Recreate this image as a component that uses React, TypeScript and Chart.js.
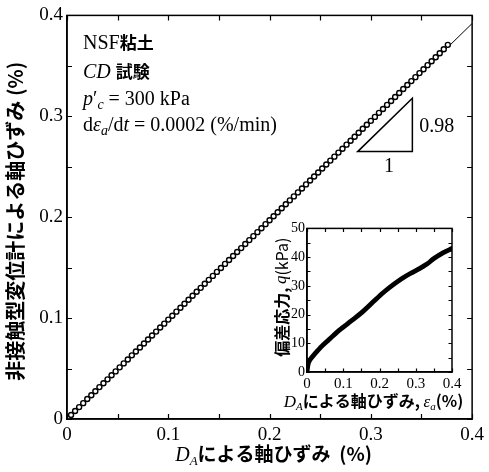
import { useEffect, useRef } from "react";
import { Chart, registerables } from "chart.js";
Chart.register(...registerables);

// ---- main chart data: axial strain by D_A (%) vs axial strain by non-contact gauge (%)
const mainX = [
  0, 0.001, 0.002, 0.004, 0.008, 0.012, 0.016, 0.020, 0.024, 0.028, 0.032, 0.036, 0.040, 0.044, 0.048,
  0.052, 0.056, 0.060, 0.064, 0.068, 0.072, 0.076, 0.080, 0.084, 0.088, 0.092, 0.096, 0.100,
  0.104, 0.108, 0.112, 0.116, 0.120, 0.124, 0.128, 0.132, 0.136, 0.140, 0.144, 0.148, 0.152,
  0.156, 0.160, 0.164, 0.168, 0.172, 0.176, 0.180, 0.184, 0.188, 0.192, 0.196, 0.200, 0.204,
  0.208, 0.212, 0.216, 0.220, 0.224, 0.228, 0.232, 0.236, 0.240, 0.244, 0.248, 0.252, 0.256,
  0.260, 0.264, 0.268, 0.272, 0.276, 0.280, 0.284, 0.288, 0.292, 0.296, 0.300, 0.304, 0.308,
  0.312, 0.316, 0.320, 0.324, 0.328, 0.332, 0.336, 0.340, 0.344, 0.348, 0.352, 0.356, 0.360,
  0.364, 0.368, 0.372, 0.376,
];
const mainY = [
  0, 0.0010, 0.0020, 0.0039, 0.0080, 0.0118, 0.0157, 0.0198, 0.0236, 0.0275, 0.0316, 0.0354, 0.0393, 0.0434, 0.0472,
  0.0512, 0.0551, 0.0590, 0.0631, 0.0669, 0.0709, 0.0748, 0.0788, 0.0827, 0.0866, 0.0907, 0.0945, 0.0985,
  0.1024, 0.1064, 0.1103, 0.1142, 0.1182, 0.1222, 0.1261, 0.1300, 0.1340, 0.1379, 0.1418, 0.1458, 0.1497,
  0.1537, 0.1576, 0.1615, 0.1655, 0.1694, 0.1734, 0.1773, 0.1812, 0.1852, 0.1891, 0.1931, 0.1970, 0.2009,
  0.2049, 0.2088, 0.2128, 0.2167, 0.2206, 0.2246, 0.2285, 0.2325, 0.2364, 0.2403, 0.2443, 0.2482, 0.2522,
  0.2561, 0.2600, 0.2640, 0.2679, 0.2719, 0.2758, 0.2797, 0.2837, 0.2876, 0.2916, 0.2955, 0.2994, 0.3034,
  0.3073, 0.3113, 0.3152, 0.3191, 0.3231, 0.3270, 0.3310, 0.3349, 0.3388, 0.3428, 0.3467, 0.3507, 0.3546,
  0.3585, 0.3625, 0.3664, 0.3708,
];
const fitX = [0, 0.4];
const fitY = [0, 0.392];
const slopeLabel = "0.98";
const mainTickValues = [0, 0.05, 0.1, 0.15, 0.2, 0.25, 0.3, 0.35, 0.4];

// ---- inset data: axial strain (%) vs deviator stress q (kPa)
const insetX = [0, 0.002, 0.005, 0.01, 0.018, 0.03, 0.041, 0.06, 0.083, 0.1, 0.12, 0.15, 0.184, 0.21, 0.239, 0.26, 0.285, 0.31, 0.331, 0.35, 0.375, 0.4];
const insetQ = [0, 2, 3.5, 4.6, 5.8, 7.5, 9, 11.2, 13.9, 15.6, 17.6, 20.6, 24.6, 27.6, 30.5, 32.4, 34.3, 36, 37.6, 39.5, 41.5, 43];
const insetXTickValues = [0, 0.05, 0.1, 0.15, 0.2, 0.25, 0.3, 0.35, 0.4];
const insetYTickValues = [0, 5, 10, 15, 20, 25, 30, 35, 40, 45, 50];

const SERIF = '"Liberation Serif", "DejaVu Serif", serif';
const JP = '"Noto Sans CJK JP", sans-serif';

type Run = { t: string; f: string; dy?: number };
function runsWidth(ctx: CanvasRenderingContext2D, runs: Run[]) {
  let w = 0;
  for (const r of runs) {
    ctx.font = r.f;
    w += ctx.measureText(r.t).width;
  }
  return w;
}
function drawRuns(ctx: CanvasRenderingContext2D, x: number, y: number, runs: Run[], align: "left" | "center" = "left") {
  const w = runsWidth(ctx, runs);
  let cx = align === "center" ? x - w / 2 : x;
  ctx.textAlign = "left";
  for (const r of runs) {
    ctx.font = r.f;
    ctx.fillText(r.t, cx, y + (r.dy || 0));
    cx += ctx.measureText(r.t).width;
  }
}

function drawFrameAndTicks(chart: any, xVals: number[], yVals: number[], len: number, lw: number) {
  const ctx = chart.ctx as CanvasRenderingContext2D;
  const { left, right, top, bottom } = chart.chartArea;
  const xs = chart.scales.x;
  const ys = chart.scales.y;
  ctx.save();
  ctx.strokeStyle = "#000";
  ctx.lineWidth = lw;
  ctx.strokeRect(left, top, right - left, bottom - top);
  ctx.lineWidth = 1.2;
  ctx.beginPath();
  for (const v of xVals) {
    const px = Math.round(xs.getPixelForValue(v)) + 0.5;
    ctx.moveTo(px, bottom);
    ctx.lineTo(px, bottom - len);
    ctx.moveTo(px, top);
    ctx.lineTo(px, top + len);
  }
  for (const v of yVals) {
    const py = Math.round(ys.getPixelForValue(v)) + 0.5;
    ctx.moveTo(left, py);
    ctx.lineTo(left + len, py);
    ctx.moveTo(right, py);
    ctx.lineTo(right - len, py);
  }
  ctx.stroke();
  ctx.restore();
}

const fmt = (v: any) => String(Number(Number(v).toFixed(2)));

export default function App() {
  const mainRef = useRef<HTMLCanvasElement>(null);
  const insetRef = useRef<HTMLCanvasElement>(null);

  useEffect(() => {
    const mainPlugin = {
      id: "mainDecor",
      afterDraw(chart: any) {
        const ctx = chart.ctx as CanvasRenderingContext2D;
        drawFrameAndTicks(chart, mainTickValues, mainTickValues, 5, 1.5);
        const xs = chart.scales.x;
        const ys = chart.scales.y;
        ctx.save();
        ctx.fillStyle = "#000";
        ctx.textBaseline = "alphabetic";
        const S = `20px ${SERIF}`;
        const SI = `italic 20px ${SERIF}`;
        const SUB = `italic 14px ${SERIF}`;
        const J = `bold 17px ${JP}`;
        drawRuns(ctx, 83, 49, [{ t: "NSF", f: S }, { t: "粘土", f: J }]);
        drawRuns(ctx, 83, 78, [{ t: "CD", f: SI }, { t: " ", f: S }, { t: "試験", f: J }]);
        drawRuns(ctx, 83, 105, [
          { t: "p", f: SI },
          { t: "′", f: S },
          { t: "c", f: SUB, dy: 4 },
          { t: " = 300 kPa", f: S },
        ]);
        drawRuns(ctx, 83, 131, [
          { t: "d", f: S },
          { t: "ε", f: SI },
          { t: "a", f: SUB, dy: 4 },
          { t: "/d", f: S },
          { t: "t", f: SI },
          { t: " = 0.0002 (%/min)", f: S },
        ]);

        // slope triangle
        const tx0 = xs.getPixelForValue(0.287);
        const tx1 = xs.getPixelForValue(0.341);
        const ty0 = ys.getPixelForValue(0.265);
        const ty1 = ys.getPixelForValue(0.265 + 0.98 * 0.054);
        ctx.strokeStyle = "#000";
        ctx.lineWidth = 1.5;
        ctx.beginPath();
        ctx.moveTo(tx0, ty0);
        ctx.lineTo(tx1, ty0);
        ctx.lineTo(tx1, ty1);
        ctx.closePath();
        ctx.stroke();
        drawRuns(ctx, tx1 + 7, (ty0 + ty1) / 2 + 7, [{ t: slopeLabel, f: S }]);
        drawRuns(ctx, (tx0 + tx1) / 2 + 4, ty0 + 20, [{ t: "1", f: S }], "center");

        // x-axis title
        drawRuns(
          ctx,
          (chart.chartArea.left + chart.chartArea.right) / 2 + 4,
          461,
          [
            { t: "D", f: `italic 20px ${SERIF}` },
            { t: "A", f: `italic 13px ${SERIF}`, dy: 4 },
            { t: "による軸ひずみ  (%)", f: `bold 19px ${JP}` },
          ],
          "center"
        );
        // y-axis title
        ctx.translate(15, (chart.chartArea.top + chart.chartArea.bottom) / 2 + 4);
        ctx.rotate(-Math.PI / 2);
        ctx.textBaseline = "middle";
        drawRuns(ctx, 0, 0, [{ t: "非接触型変位計による軸ひずみ (%)", f: `bold 20px ${JP}` }], "center");
        ctx.restore();
      },
    };

    const main = new Chart(mainRef.current!, {
      type: "scatter",
      data: {
        datasets: [
          {
            data: mainX.map((x, i) => ({ x, y: mainY[i] })),
            pointRadius: 2.5,
            pointBackgroundColor: "#fff",
            pointBorderColor: "#000",
            pointBorderWidth: 1.4,
            showLine: false,
            order: 1,
          },
          {
            type: "line",
            data: fitX.map((x, i) => ({ x, y: fitY[i] })),
            borderColor: "#000",
            borderWidth: 1,
            pointRadius: 0,
            order: 2,
          } as any,
        ],
      },
      options: {
        animation: false,
        responsive: false,
        events: [],
        layout: { padding: { top: 13, right: 15, left: 0, bottom: 0 } },
        plugins: { legend: { display: false }, tooltip: { enabled: false } },
        scales: {
          x: {
            type: "linear",
            min: 0,
            max: 0.4,
            afterFit: (s: any) => {
              s.height = 53;
            },
            ticks: { stepSize: 0.1, color: "#000", font: { family: SERIF, size: 19 }, padding: 5, callback: fmt },
            grid: { display: false, drawTicks: false },
            border: { display: true, color: "#000", width: 1.5 },
          },
          y: {
            type: "linear",
            min: 0,
            max: 0.4,
            afterFit: (s: any) => {
              s.width = 67;
            },
            ticks: { stepSize: 0.1, color: "#000", font: { family: SERIF, size: 19 }, padding: 4, callback: fmt },
            grid: { display: false, drawTicks: false },
            border: { display: true, color: "#000", width: 1.5 },
          },
        },
      },
      plugins: [mainPlugin],
    } as any);

    const insetPlugin = {
      id: "insetDecor",
      afterDraw(chart: any) {
        const ctx = chart.ctx as CanvasRenderingContext2D;
        drawFrameAndTicks(chart, insetXTickValues, insetYTickValues, 3.5, 1.5);
        const { left, right, top, bottom } = chart.chartArea;
        ctx.save();
        ctx.fillStyle = "#000";
        ctx.textBaseline = "alphabetic";
        drawRuns(
          ctx,
          (left + right) / 2 - 6,
          189,
          [
            { t: "D", f: `italic 17px ${SERIF}` },
            { t: "A", f: `italic 11px ${SERIF}`, dy: 3 },
            { t: "による軸ひずみ, ", f: `bold 16px ${JP}` },
            { t: "ε", f: `italic 17px ${SERIF}` },
            { t: "a", f: `italic 11px ${SERIF}`, dy: 3 },
            { t: "(%)", f: `bold 16px ${JP}` },
          ],
          "center"
        );
        ctx.translate(12, (top + bottom) / 2 - 3);
        ctx.rotate(-Math.PI / 2);
        ctx.textBaseline = "middle";
        drawRuns(
          ctx,
          0,
          0,
          [
            { t: "偏差応力, ", f: `bold 16px ${JP}` },
            { t: "q", f: `italic 17px ${SERIF}` },
            { t: "(kPa)", f: `16px ${JP}` },
          ],
          "center"
        );
        ctx.restore();
      },
    };

    const inset = new Chart(insetRef.current!, {
      type: "line",
      data: {
        datasets: [
          {
            data: insetX.map((x, i) => ({ x, y: insetQ[i] })),
            borderColor: "#000",
            borderWidth: 4.8,
            borderCapStyle: "round",
            borderJoinStyle: "round",
            pointRadius: 0,
            tension: 0.3,
          },
        ],
      },
      options: {
        animation: false,
        responsive: false,
        events: [],
        layout: { padding: { top: 9, right: 33, left: 0, bottom: 0 } },
        plugins: { legend: { display: false }, tooltip: { enabled: false } },
        scales: {
          x: {
            type: "linear",
            min: 0,
            max: 0.4,
            afterFit: (s: any) => {
              s.height = 42;
            },
            ticks: { stepSize: 0.1, color: "#000", font: { family: SERIF, size: 15 }, padding: 3, callback: fmt },
            grid: { display: false, drawTicks: false },
            border: { display: true, color: "#000", width: 1.5 },
          },
          y: {
            type: "linear",
            min: 0,
            max: 50,
            afterFit: (s: any) => {
              s.width = 37;
            },
            ticks: { stepSize: 10, color: "#000", font: { family: SERIF, size: 14 }, padding: 2, callback: fmt },
            grid: { display: false, drawTicks: false },
            border: { display: true, color: "#000", width: 1.5 },
          },
        },
      },
      plugins: [insetPlugin],
    } as any);

    return () => {
      main.destroy();
      inset.destroy();
    };
  }, []);

  return (
    <div style={{ position: "fixed", left: 0, top: 0, width: 489, height: 472, background: "#fff" }}>
      <canvas ref={mainRef} width={489} height={472} style={{ position: "absolute", left: 0, top: 0 }} />
      <canvas ref={insetRef} width={215} height={196} style={{ position: "absolute", left: 270, top: 218 }} />
    </div>
  );
}
